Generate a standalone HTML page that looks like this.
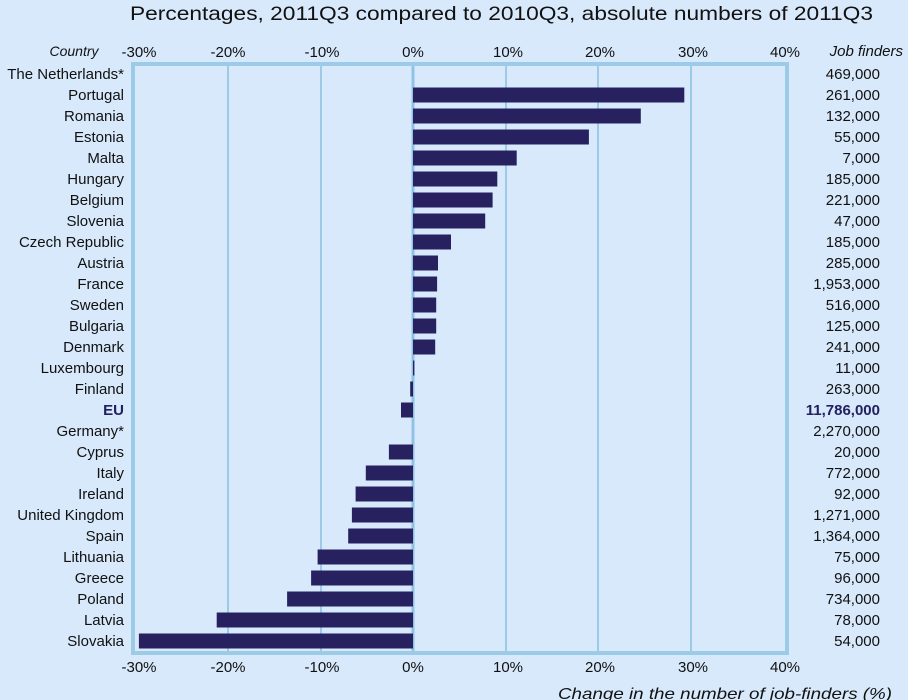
<!DOCTYPE html>
<html><head><meta charset="utf-8"><style>
html,body{margin:0;padding:0;background:#d8e9fb;}
svg{display:block;font-family:"Liberation Sans",Arial,sans-serif;}
</style></head><body>
<svg width="908" height="700" viewBox="0 0 908 700" xmlns="http://www.w3.org/2000/svg">
<rect width="908" height="700" fill="#d8e9fb"/>
<text x="130" y="20" font-size="19" textLength="743" lengthAdjust="spacingAndGlyphs" fill="#111">Percentages, 2011Q3 compared to 2010Q3, absolute numbers of 2011Q3</text>
<text x="74" y="56" font-size="14" font-style="italic" text-anchor="middle" fill="#111">Country</text>
<text x="903" y="56" font-size="15" font-style="italic" text-anchor="end" fill="#111">Job finders</text>
<g stroke="#9ccbe8" stroke-width="2">
<line x1="228" y1="64" x2="228" y2="651"/><line x1="321" y1="64" x2="321" y2="651"/>
<line x1="506" y1="64" x2="506" y2="651"/><line x1="598" y1="64" x2="598" y2="651"/><line x1="691" y1="64" x2="691" y2="651"/>
</g>
<line x1="413" y1="64" x2="413" y2="651" stroke="#8fc3e6" stroke-width="3"/>
<rect x="133" y="64" width="654" height="589" fill="none" stroke="#9ccbe8" stroke-width="4"/>
<g font-size="15" fill="#111" text-anchor="middle">
<text x="139" y="57">-30%</text><text x="228" y="57">-20%</text><text x="322" y="57">-10%</text><text x="413" y="57">0%</text><text x="508" y="57">10%</text><text x="600" y="57">20%</text><text x="693" y="57">30%</text><text x="785" y="57">40%</text>
<text x="139" y="672">-30%</text><text x="228" y="672">-20%</text><text x="322" y="672">-10%</text><text x="413" y="672">0%</text><text x="508" y="672">10%</text><text x="600" y="672">20%</text><text x="693" y="672">30%</text><text x="785" y="672">40%</text>
</g>
<text x="558" y="699" font-size="16" font-style="italic" textLength="334" lengthAdjust="spacingAndGlyphs" fill="#111">Change in the number of job-finders (%)</text>
<g fill="#27225f">
<rect x="413" y="87.5" width="271.3" height="15"/>
<rect x="413" y="108.5" width="227.8" height="15"/>
<rect x="413" y="129.5" width="175.9" height="15"/>
<rect x="413" y="150.5" width="103.7" height="15"/>
<rect x="413" y="171.5" width="84.3" height="15"/>
<rect x="413" y="192.5" width="79.6" height="15"/>
<rect x="413" y="213.5" width="72.2" height="15"/>
<rect x="413" y="234.5" width="38" height="15"/>
<rect x="413" y="255.5" width="25" height="15"/>
<rect x="413" y="276.5" width="24.1" height="15"/>
<rect x="413" y="297.5" width="23.2" height="15"/>
<rect x="413" y="318.5" width="23.2" height="15"/>
<rect x="413" y="339.5" width="22.2" height="15"/>
<rect x="413" y="360.5" width="1.4" height="15"/>
<rect x="410.2" y="381.5" width="2.8" height="15"/>
<rect x="401" y="402.5" width="12" height="15"/>
<rect x="388.9" y="444.5" width="24.1" height="15"/>
<rect x="365.8" y="465.5" width="47.2" height="15"/>
<rect x="355.6" y="486.5" width="57.4" height="15"/>
<rect x="351.9" y="507.5" width="61.1" height="15"/>
<rect x="348.2" y="528.5" width="64.8" height="15"/>
<rect x="317.6" y="549.5" width="95.4" height="15"/>
<rect x="311.1" y="570.5" width="101.9" height="15"/>
<rect x="287.1" y="591.5" width="125.9" height="15"/>
<rect x="216.7" y="612.5" width="196.3" height="15"/>
<rect x="138.9" y="633.5" width="274.1" height="15"/>
</g>
<g font-size="15" fill="#111" text-anchor="end">
<text x="124" y="79">The Netherlands*</text>
<text x="124" y="100">Portugal</text>
<text x="124" y="121">Romania</text>
<text x="124" y="142">Estonia</text>
<text x="124" y="163">Malta</text>
<text x="124" y="184">Hungary</text>
<text x="124" y="205">Belgium</text>
<text x="124" y="226">Slovenia</text>
<text x="124" y="247">Czech Republic</text>
<text x="124" y="268">Austria</text>
<text x="124" y="289">France</text>
<text x="124" y="310">Sweden</text>
<text x="124" y="331">Bulgaria</text>
<text x="124" y="352">Denmark</text>
<text x="124" y="373">Luxembourg</text>
<text x="124" y="394">Finland</text>
<text x="124" y="415" font-weight="bold" fill="#22205e">EU</text>
<text x="124" y="436">Germany*</text>
<text x="124" y="457">Cyprus</text>
<text x="124" y="478">Italy</text>
<text x="124" y="499">Ireland</text>
<text x="124" y="520">United Kingdom</text>
<text x="124" y="541">Spain</text>
<text x="124" y="562">Lithuania</text>
<text x="124" y="583">Greece</text>
<text x="124" y="604">Poland</text>
<text x="124" y="625">Latvia</text>
<text x="124" y="646">Slovakia</text>
<text x="880" y="79">469,000</text>
<text x="880" y="100">261,000</text>
<text x="880" y="121">132,000</text>
<text x="880" y="142">55,000</text>
<text x="880" y="163">7,000</text>
<text x="880" y="184">185,000</text>
<text x="880" y="205">221,000</text>
<text x="880" y="226">47,000</text>
<text x="880" y="247">185,000</text>
<text x="880" y="268">285,000</text>
<text x="880" y="289">1,953,000</text>
<text x="880" y="310">516,000</text>
<text x="880" y="331">125,000</text>
<text x="880" y="352">241,000</text>
<text x="880" y="373">11,000</text>
<text x="880" y="394">263,000</text>
<text x="880" y="415" font-weight="bold" fill="#22205e">11,786,000</text>
<text x="880" y="436">2,270,000</text>
<text x="880" y="457">20,000</text>
<text x="880" y="478">772,000</text>
<text x="880" y="499">92,000</text>
<text x="880" y="520">1,271,000</text>
<text x="880" y="541">1,364,000</text>
<text x="880" y="562">75,000</text>
<text x="880" y="583">96,000</text>
<text x="880" y="604">734,000</text>
<text x="880" y="625">78,000</text>
<text x="880" y="646">54,000</text>
</g>
</svg>
</body></html>
